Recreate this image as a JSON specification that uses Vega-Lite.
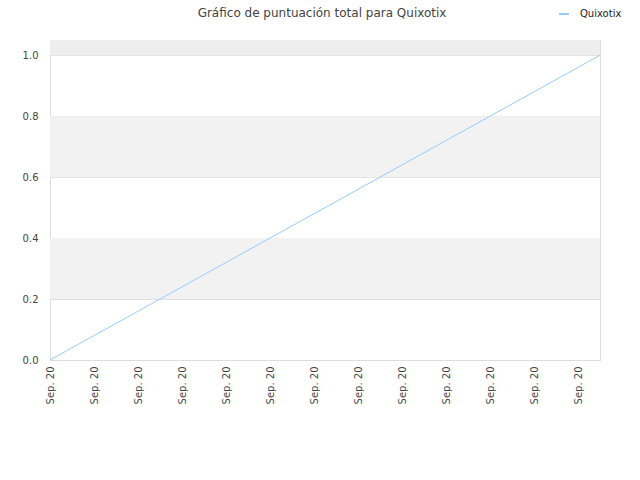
{
  "$schema": "https://vega.github.io/schema/vega-lite/v6.json",
  "width": 550,
  "height": 320,
  "autosize": "none",
  "padding": {"left": 50, "top": 40, "right": 40, "bottom": 120},
  "background": "white",
  "config": {
    "font": "DejaVu Sans",
    "view": {"stroke": "#dddddd", "strokeWidth": 1}
  },
  "title": {
    "text": "Gráfico de puntuación total para Quixotix",
    "fontSize": 12,
    "fontWeight": "normal",
    "color": "#444444",
    "anchor": "middle",
    "frame": "bounds",
    "offset": 0,
    "dy": 12
  },
  "datasets": {
    "bands": [
      {"lo": 0.2, "hi": 0.4, "shade": "a"},
      {"lo": 0.6, "hi": 0.8, "shade": "a"},
      {"lo": 1.0, "hi": 1.05, "shade": "b"}
    ],
    "scores": [
      {"fecha": "2020-09-20T00:00:00Z", "puntuacion": 0.0, "serie": "Quixotix"},
      {"fecha": "2020-09-20T12:30:00Z", "puntuacion": 1.0, "serie": "Quixotix"}
    ]
  },
  "layer": [
    {
      "data": {"name": "bands"},
      "mark": {"type": "rect"},
      "encoding": {
        "y": {
          "field": "lo",
          "type": "quantitative",
          "scale": {"domain": [0, 1.05], "nice": false},
          "axis": {
            "title": null,
            "values": [0, 0.2, 0.4, 0.6, 0.8, 1.0],
            "format": ".1f",
            "labelFontSize": 10,
            "labelColor": "#444444",
            "labelPadding": 12,
            "ticks": false,
            "grid": true,
            "gridColor": "#e0e0e0",
            "domainColor": "#dddddd"
          }
        },
        "y2": {"field": "hi"},
        "fill": {"field": "shade", "type": "nominal", "scale": {"domain": ["a", "b"], "range": ["#f2f2f2", "#eeeeee"]}, "legend": null}
      }
    },
    {
      "data": {"name": "scores"},
      "mark": {"type": "line", "strokeWidth": 1},
      "encoding": {
        "x": {
          "field": "fecha",
          "type": "temporal",
          "scale": {"type": "utc", "nice": false},
          "axis": {
            "title": null,
            "format": "%b. %y",
            "tickCount": 13,
            "labelAngle": -90,
            "labelFontSize": 10,
            "labelColor": "#444444",
            "labelPadding": 6,
            "ticks": false,
            "grid": false,
            "domainColor": "#dddddd",
            "labelOverlap": false,
            "labelFlush": false
          }
        },
        "y": {
          "field": "puntuacion",
          "type": "quantitative"
        },
        "stroke": {
          "field": "serie",
          "type": "nominal",
          "scale": {"range": ["#99ccff"]},
          "legend": {
            "title": null,
            "orient": "none",
            "legendX": 508,
            "legendY": -32,
            "symbolType": "stroke",
            "symbolStrokeWidth": 2,
            "symbolSize": 100,
            "labelOffset": 10,
            "labelFontSize": 10,
            "labelColor": "#222222"
          }
        }
      }
    }
  ]
}
